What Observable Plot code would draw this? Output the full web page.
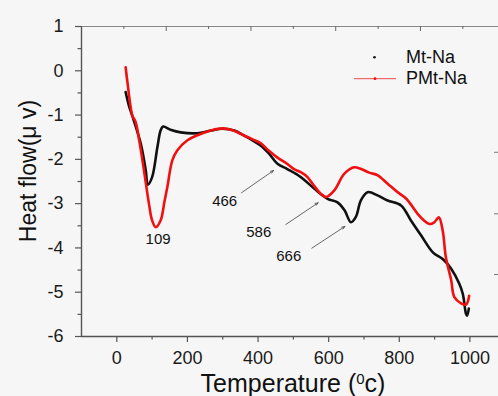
<!DOCTYPE html>
<html><head><meta charset="utf-8">
<script src="https://cdn.jsdelivr.net/npm/d3@7"></script>
<script src="https://cdn.jsdelivr.net/npm/@observablehq/plot@0.6"></script>
<style>
html,body{margin:0;padding:0;background:#f6f6f6;}
#chart{position:relative;width:498px;height:396px;}
svg{font-family:"Liberation Sans",Arial,sans-serif;}
</style></head><body><div id="chart"></div>
<script>
// Mt-Na (black)
const mtX = [25, 34, 48, 68, 82, 88, 100, 115, 124, 131, 152, 181, 228, 266, 299, 333, 360, 390, 408, 430, 455, 483, 521, 559, 597, 625, 645, 663, 677, 691, 710, 740, 767, 805, 833, 862, 895, 923, 947, 970, 980, 989, 992, 997];
const mtY = [-0.48, -0.78, -1.12, -1.65, -2.25, -2.57, -2.40, -1.72, -1.35, -1.26, -1.33, -1.39, -1.41, -1.35, -1.31, -1.35, -1.46, -1.60, -1.69, -1.86, -2.10, -2.22, -2.40, -2.66, -2.89, -2.97, -3.15, -3.42, -3.30, -2.93, -2.74, -2.82, -2.93, -3.04, -3.38, -3.72, -4.10, -4.25, -4.47, -4.81, -5.04, -5.49, -5.53, -5.37];
// PMt-Na (red)
const pmtX = [25, 30, 44, 53, 64, 77, 91, 100, 110, 124, 135, 143, 157, 171, 200, 230, 266, 300, 330, 360, 385, 408, 430, 455, 484, 502, 521, 540, 559, 578, 593, 616, 644, 672, 690, 715, 739, 767, 795, 820, 852, 870, 885, 898, 912, 923, 932, 947, 956, 975, 989, 998];
const pmtY = [0.08, -0.25, -1.01, -1.15, -1.60, -2.25, -3.0, -3.38, -3.53, -3.38, -2.95, -2.63, -2.03, -1.80, -1.57, -1.45, -1.35, -1.30, -1.35, -1.46, -1.55, -1.64, -1.80, -1.96, -2.11, -2.22, -2.29, -2.40, -2.60, -2.78, -2.85, -2.70, -2.33, -2.18, -2.21, -2.30, -2.36, -2.55, -2.74, -2.89, -3.23, -3.38, -3.46, -3.43, -3.31, -3.61, -4.21, -4.73, -5.11, -5.25, -5.28, -5.08];

const seriesNames = ["Mt-Na", "PMt-Na"];
const xMajor = [0, 200, 400, 600, 800, 1000];
const xMinor = [100, 300, 500, 700, 900];
const yMajor = [-6, -5, -4, -3, -2, -1, 0, 1];
const yMinor = [-5.5, -4.5, -3.5, -2.5, -1.5, -0.5, 0.5];
const topMajor = [140, 380, 620, 860];
const topMinor = [20, 260, 500, 740, 980];
const rightTicks = [-1.84, -3.23, -4.6];

const annLabels = ["109", "466", "586", "666"];
const annX = [117, 305.5, 402, 487];
const annY = [-3.81, -2.95, -3.65, -4.18];

const arrowX1 = [353, 478.6, 552.3];
const arrowY1 = [-2.755, -3.47, -4.005];
const arrowX2 = [443.9, 570.2, 646];
const arrowY2 = [-2.252, -2.98, -3.515];

const mt = mtX.map((x, i) => ({x, y: mtY[i]}));
const pmt = pmtX.map((x, i) => ({x, y: pmtY[i]}));
const ann = annLabels.map((t, i) => ({t, x: annX[i], y: annY[i]}));
const arrows = arrowX1.map((x1, i) => ({x1, y1: arrowY1[i], x2: arrowX2[i], y2: arrowY2[i]}));

const axisColor = "#555";
const plot = Plot.plot({
  width: 498, height: 396,
  marginLeft: 81, marginRight: 0, marginTop: 26, marginBottom: 60,
  x: {domain: [-100, 1081]},
  y: {domain: [-6, 1]},
  style: {background: "transparent", fontFamily: "'Liberation Sans', Arial, sans-serif", fontSize: "18px", color: "#1a1a1a"},
  marks: [
    Plot.ruleY([1], {stroke: "#888", strokeWidth: 1}),
    Plot.ruleX(topMajor, {x: d => d, y1: () => 1, y2: () => 1, insetBottom: -5, stroke: "#666"}),
    Plot.ruleX(topMinor, {x: d => d, y1: () => 1, y2: () => 1, insetBottom: -3, stroke: "#666"}),
    Plot.ruleY(rightTicks, {y: d => d, x1: () => 1081, x2: () => 1081, insetLeft: -4, stroke: "#777"}),
    Plot.axisX({ticks: xMajor, tickSize: 6, tickPadding: 9, label: null, stroke: axisColor, strokeWidth: 1.2, tickFormat: d => String(d)}),
    Plot.axisX({ticks: xMinor, tickSize: 3.5, text: null, label: null, stroke: axisColor, strokeWidth: 1.2}),
    Plot.axisY({ticks: yMajor, tickSize: 6, tickPadding: 12, label: null, stroke: axisColor, strokeWidth: 1.2, tickFormat: d => String(d)}),
    Plot.axisY({ticks: yMinor, tickSize: 3.5, text: null, label: null, stroke: axisColor, strokeWidth: 1.2}),
    Plot.ruleY([-6], {stroke: axisColor, strokeWidth: 1.4}),
    Plot.ruleX([-100], {stroke: axisColor, strokeWidth: 1.4}),
    Plot.line(mt, {x: "x", y: "y", stroke: "#111", strokeWidth: 2.6, curve: "catmull-rom"}),
    Plot.line(pmt, {x: "x", y: "y", stroke: "#f01010", strokeWidth: 2.6, curve: "catmull-rom"}),
    Plot.arrow(arrows, {x1: "x1", y1: "y1", x2: "x2", y2: "y2", stroke: "#444", strokeWidth: 0.8, headLength: 6, headAngle: 40}),
    Plot.text(ann, {x: "x", y: "y", text: "t", fontSize: 15, fill: "#111"})
  ]
});
document.getElementById("chart").appendChild(plot);

const svg = d3.select(plot);
// axis titles
const xl = svg.append("text").attr("x", 293).attr("y", 392).attr("text-anchor", "middle")
  .attr("font-size", 25).attr("fill", "#111");
xl.append("tspan").text("Temperature (");
xl.append("tspan").attr("font-size", 15).attr("dy", -8).text("0");
xl.append("tspan").attr("dy", 8).text("c)");
svg.append("text").attr("transform", "translate(36,171) rotate(-90)").attr("text-anchor", "middle")
  .attr("font-size", 23).attr("fill", "#111").text("Heat flow(\u03bc v)");
// legend
const lg = svg.append("g").attr("text-anchor", "start");
lg.append("circle").attr("cx", 374.5).attr("cy", 57.3).attr("r", 1.3).attr("fill", "#111");
lg.append("text").attr("x", 406).attr("y", 62.5).attr("font-size", 18).attr("fill", "#111").text(seriesNames[0]);
lg.append("line").attr("x1", 354).attr("x2", 396).attr("y1", 78.7).attr("y2", 78.7).attr("stroke", "#f01010").attr("stroke-width", 1).attr("opacity", 0.75);
lg.append("circle").attr("cx", 375).attr("cy", 78.7).attr("r", 1.4).attr("fill", "#f01010");
lg.append("text").attr("x", 406).attr("y", 84).attr("font-size", 18).attr("fill", "#111").text(seriesNames[1]);
</script>
</body></html>
